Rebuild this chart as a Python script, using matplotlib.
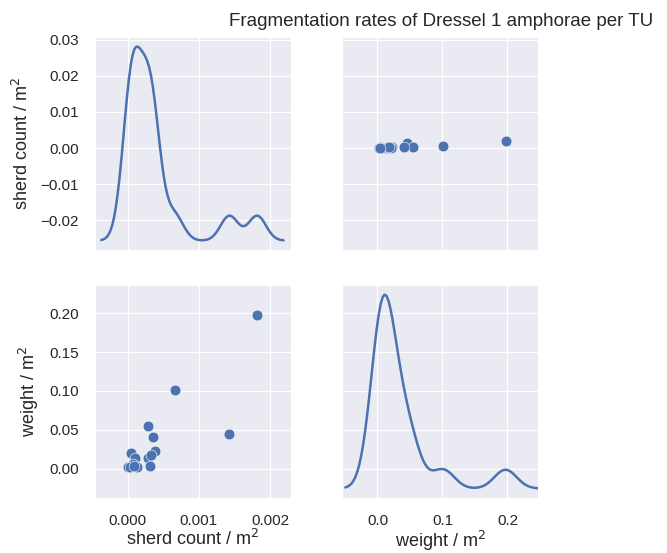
import numpy as np
import matplotlib
matplotlib.use("Agg")
import matplotlib.pyplot as plt
from matplotlib.ticker import FuncFormatter
import seaborn as sns

# values (per test unit)
sherd_count = [0.00182, 0.00066, 0.00143, 0.00028, 0.00035, 0.00039, 0.00005,
               0.00010, 0.00028, 0.00031, 0.00000, 0.00013, 0.00007, 0.00033,
               0.00003, 0.00009]
weight = [0.197, 0.101, 0.045, 0.055, 0.041, 0.023, 0.021,
          0.014, 0.014, 0.004, 0.002, 0.002, 0.007, 0.018,
          0.002, 0.004]
var_names = ["sherd count / m$^2$", "weight / m$^2$"]
title = "Fragmentation rates of Dressel 1 amphorae per TU"

sns.set_style("darkgrid")
plt.rcParams['font.family'] = ['Liberation Sans', 'DejaVu Sans']
blue = "#4C72B0"


def kde_curve(data, gridsize=100, cut=3):
    # scott rule as in statsmodels (robust spread)
    x = np.asarray(data, dtype=float)
    n = len(x)
    iqr = np.subtract(*np.percentile(x, [75, 25]))
    bw = 1.059 * min(x.std(ddof=1), iqr / 1.349) * n ** -0.2
    grid = np.linspace(x.min() - cut * bw, x.max() + cut * bw, gridsize)
    dens = np.exp(-0.5 * ((grid[:, None] - x[None, :]) / bw) ** 2).sum(1)
    dens /= n * bw * np.sqrt(2 * np.pi)
    return grid, dens


def fmt(decimals):
    return FuncFormatter(lambda v, p: f"{v:.{decimals}f}".replace("-", "\u2212"))


cols = [sherd_count, weight]
fig, axes = plt.subplots(2, 2, figsize=(6.67, 5.53), dpi=100,
                         sharex='col', sharey='row')
fig.subplots_adjust(left=0.1424, right=0.8066, top=0.9331, bottom=0.0995,
                    wspace=0.265, hspace=0.164)

for i in range(2):
    for j in range(2):
        ax = axes[i, j]
        if i == j:
            tw = ax.twinx()
            g, d = kde_curve(cols[j])
            tw.plot(g, d, color=blue, lw=1.8)
            tw.set_axis_off()
        else:
            ax.scatter(cols[j], cols[i], s=60, color=blue,
                       edgecolor="white", linewidth=0.4, zorder=3)
        ax.tick_params(left=False, bottom=False, right=False, top=False,
                       labelsize=11)
        ax.tick_params(axis='y', pad=8)
        ax.tick_params(axis='x', pad=8)

axes[0, 0].set_xlim(-0.00046, 0.00229)
axes[0, 1].set_xlim(-0.054, 0.247)
axes[0, 0].set_ylim(-0.0283, 0.0308)
axes[1, 0].set_ylim(-0.0372, 0.236)
axes[0, 0].set_xticks([0.000, 0.001, 0.002])
axes[0, 1].set_xticks([0.0, 0.1, 0.2])
axes[0, 0].set_yticks([-0.02, -0.01, 0.00, 0.01, 0.02, 0.03])
axes[1, 0].set_yticks([0.00, 0.05, 0.10, 0.15, 0.20])
axes[1, 0].xaxis.set_major_formatter(fmt(3))
axes[1, 1].xaxis.set_major_formatter(fmt(1))
axes[0, 0].yaxis.set_major_formatter(fmt(2))
axes[1, 0].yaxis.set_major_formatter(fmt(2))

for ax, lab in [(axes[0, 0], var_names[0]), (axes[1, 0], var_names[1])]:
    ax.set_ylabel(lab, fontsize=13, labelpad=6)
axes[1, 0].set_xlabel(var_names[0], fontsize=13, labelpad=1)
axes[1, 1].set_xlabel(var_names[1], fontsize=13, labelpad=1)

fig.text(441 / 667, 1 - 22 / 553, title, ha="center", va="center", fontsize=13.5)

fig.savefig("out.png", dpi=100)
